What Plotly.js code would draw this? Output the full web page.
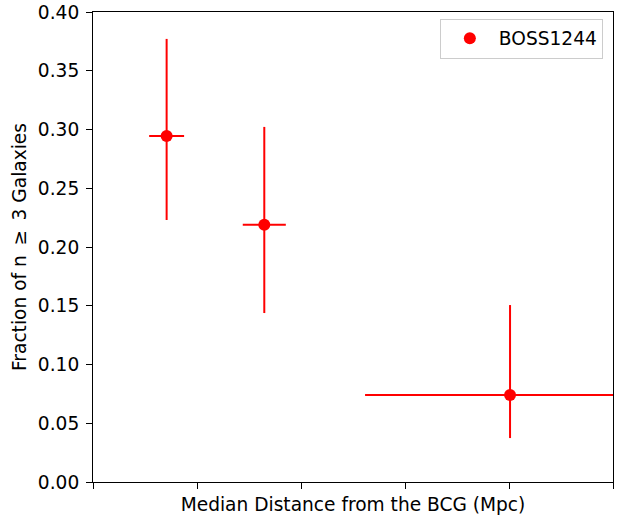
<!DOCTYPE html>
<html>
<head>
<meta charset="utf-8">
<script src="https://cdn.plot.ly/plotly-3.0.1.min.js"></script>
<style>html,body{margin:0;padding:0;background:#fff;}#chart{width:622px;height:520px;}</style>
</head>
<body>
<div id="chart"></div>
<script>
// Data
const seriesName = "BOSS1244";
const distance = [0.708, 1.647, 4.01];
const distErrMinus = [0.168, 0.207, 1.394];
const distErrPlus = [0.168, 0.207, 1.394];
const fraction = [0.2945, 0.2190, 0.0740];
const fracErrPlus = [0.0826, 0.0832, 0.0766];
const fracErrMinus = [0.0715, 0.0752, 0.0366];
const xTicks = [0, 1, 2, 3, 4, 5];
const yTicks = [0, 0.05, 0.10, 0.15, 0.20, 0.25, 0.30, 0.35, 0.40];
const yTickText = ["0.00","0.05","0.10","0.15","0.20","0.25","0.30","0.35","0.40"];

const trace = {
  x: distance, y: fraction, type: 'scatter', mode: 'markers', name: seriesName,
  marker: {color: '#ff0000', size: 12},
  error_x: {type: 'data', symmetric: false, array: distErrPlus, arrayminus: distErrMinus, color: '#ff0000', thickness: 2, width: 0},
  error_y: {type: 'data', symmetric: false, array: fracErrPlus, arrayminus: fracErrMinus, color: '#ff0000', thickness: 2, width: 0},
  cliponaxis: true
};

const font = {family: 'DejaVu Sans, sans-serif', size: 18.6, color: '#000'};
const layout = {
  width: 622, height: 520,
  margin: {l: 93, r: 9, t: 12, b: 38},
  paper_bgcolor: '#fff', plot_bgcolor: '#fff',
  font: font,
  showlegend: true,
  legend: {x: 0.667, y: 0.986, xanchor: 'left', yanchor: 'top', bordercolor: '#cccccc', borderwidth: 1, font: font, bgcolor: 'rgba(255,255,255,0.8)', itemwidth: 48, tracegroupgap: 0},
  xaxis: {
    range: [0, 5], tickvals: xTicks, showticklabels: false, ticks: 'outside', ticklen: 6, tickwidth: 1, tickcolor: '#000',
    showline: true, linecolor: '#000', linewidth: 1, mirror: true, showgrid: false, zeroline: false,
    title: {text: 'Median Distance from the BCG (Mpc)', font: font, standoff: 9}
  },
  yaxis: {
    range: [0, 0.4], tickvals: yTicks, ticktext: yTickText, ticks: 'outside', ticklen: 6, tickwidth: 1, tickcolor: '#000',
    showline: true, linecolor: '#000', linewidth: 1, mirror: true, showgrid: false, zeroline: false,
    tickfont: font, ticklabelstandoff: 3,
    title: {text: 'Fraction of n \u2009≥\u2009 3 Galaxies', font: font, standoff: 6}
  }
};
Plotly.newPlot('chart', [trace], layout, {displayModeBar: false, staticPlot: true});
</script>
</body>
</html>
